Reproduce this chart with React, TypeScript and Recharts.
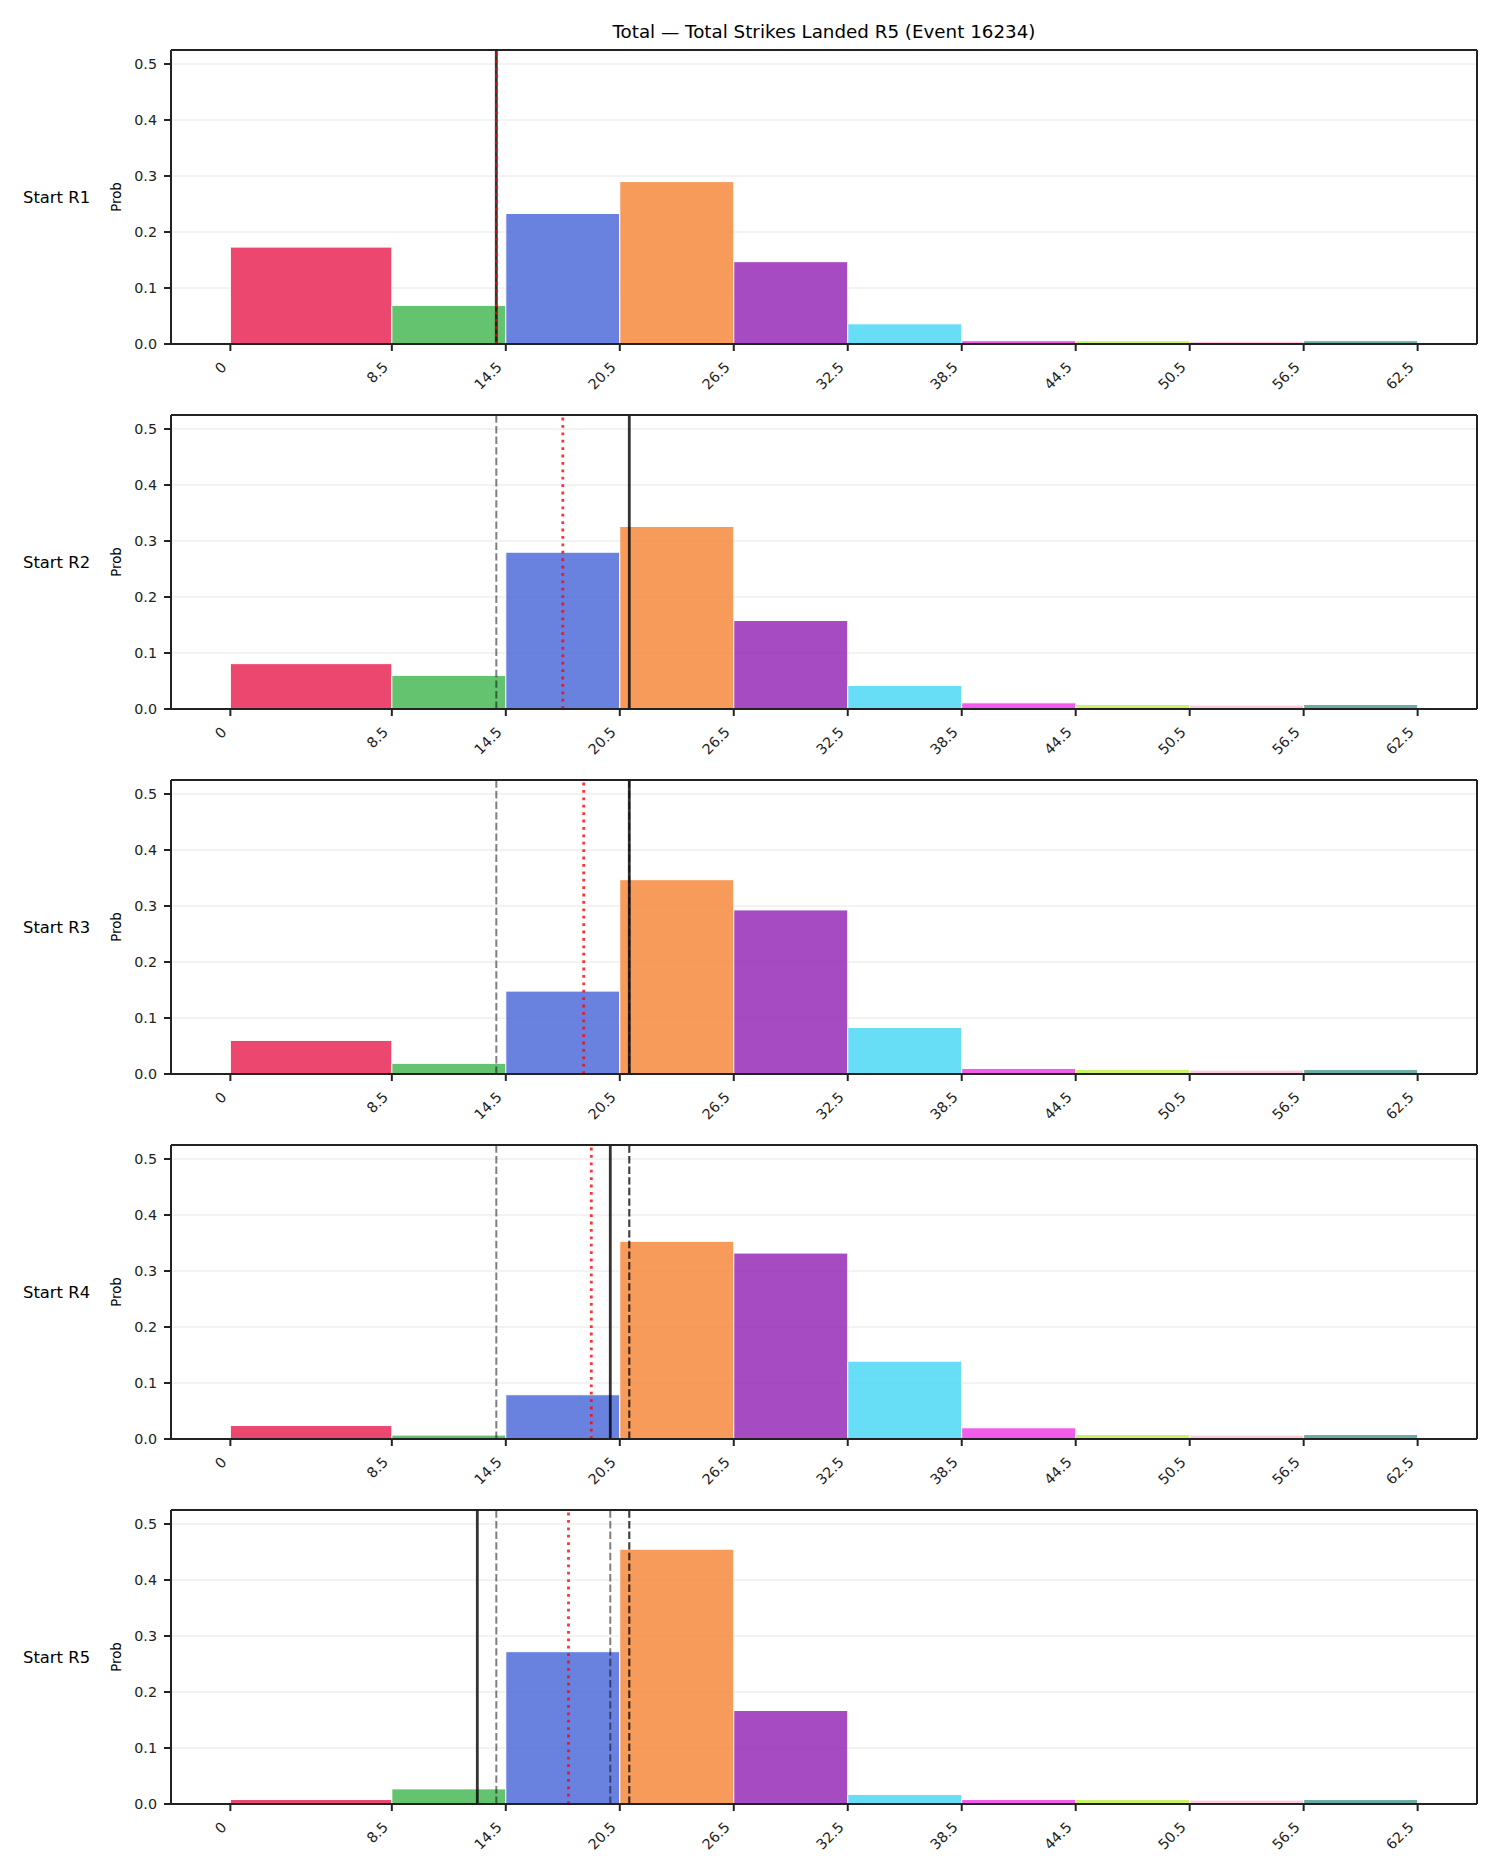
import React from 'react';
import {
  ComposedChart,
  XAxis,
  YAxis,
  CartesianGrid,
  ReferenceArea,
  ReferenceLine,
  Line,
} from 'recharts';

// ---- data ----
const binEdges = [0, 8.5, 14.5, 20.5, 26.5, 32.5, 38.5, 44.5, 50.5, 56.5, 62.5];
const xTickLabels = ['0', '8.5', '14.5', '20.5', '26.5', '32.5', '38.5', '44.5', '50.5', '56.5', '62.5'];
const binColors = ['#e6194b', '#3cb44b', '#4363d8', '#f58231', '#911eb4', '#42d4f4', '#f032e6', '#bfef45', '#fabed4', '#469990'];
const roundNames = ['Start R1', 'Start R2', 'Start R3', 'Start R4', 'Start R5'];

const probR1 = [0.173, 0.069, 0.233, 0.290, 0.147, 0.036, 0.006, 0.006, 0.005, 0.006];
const probR2 = [0.081, 0.060, 0.280, 0.326, 0.158, 0.042, 0.011, 0.008, 0.007, 0.008];
const probR3 = [0.060, 0.019, 0.148, 0.347, 0.293, 0.083, 0.010, 0.008, 0.007, 0.008];
const probR4 = [0.024, 0.007, 0.079, 0.353, 0.332, 0.139, 0.020, 0.008, 0.007, 0.008];
const probR5 = [0.008, 0.027, 0.272, 0.455, 0.167, 0.017, 0.008, 0.008, 0.007, 0.008];
const probsByRound = [probR1, probR2, probR3, probR4, probR5];

const roundLines = [14, 21, 21, 20, 13];
const redLines = [14, 17.5, 18.6, 19.0, 17.8];
const yTicks = [0, 0.1, 0.2, 0.3, 0.4, 0.5];

const titleText = 'Total \u2014 Total Strikes Landed R5 (Event 16234)';

// ---- layout ----
const FONT = '"DejaVu Sans", sans-serif';
const PANEL_TOP = 50;
const PANEL_STEP = 365;
const PLOT_H = 294;
const MARGIN_TOP = 10;
const X_AXIS_H = 60;
const Y_AXIS_W = 171;
const RIGHT_M = 23;
const X_DOMAIN: [number, number] = [-3.125, 65.625];
const Y_MAX = 0.525;
const INK = '#222';

function XTick(props: any) {
  const { x, y, payload } = props;
  const i = binEdges.indexOf(payload.value);
  const label = i >= 0 ? xTickLabels[i] : String(payload.value);
  const ax = x - 3;
  const ay = y + 17;
  return (
    <text
      x={ax}
      y={ay}
      transform={`rotate(-45 ${ax} ${ay})`}
      textAnchor="end"
      fontSize={14.3}
      fill={INK}
      fontFamily={FONT}
    >
      {label}
    </text>
  );
}

function Panel({ idx }: { idx: number }) {
  const probs = probsByRound[idx];
  const data = probs.map((p, i) => ({ x: (binEdges[i] + binEdges[i + 1]) / 2, p }));
  return (
    <div style={{ position: 'absolute', left: 0, top: PANEL_TOP + idx * PANEL_STEP - MARGIN_TOP }}>
      <ComposedChart
        width={1500}
        height={MARGIN_TOP + PLOT_H + X_AXIS_H}
        data={data}
        margin={{ top: MARGIN_TOP, right: RIGHT_M, bottom: 0, left: 0 }}
      >
        <CartesianGrid horizontal vertical={false} stroke="#e6e6e6" strokeWidth={1} />
        <XAxis
          type="number"
          dataKey="x"
          domain={X_DOMAIN}
          ticks={binEdges}
          interval={0}
          allowDataOverflow
          height={X_AXIS_H}
          tickSize={7}
          tickMargin={0}
          tick={<XTick />}
          axisLine={{ stroke: INK, strokeWidth: 2 }}
          tickLine={{ stroke: INK, strokeWidth: 2 }}
        />
        <YAxis
          type="number"
          domain={[0, Y_MAX]}
          ticks={yTicks}
          allowDataOverflow
          width={Y_AXIS_W}
          tickSize={7}
          tickMargin={7}
          tickFormatter={(v: number) => v.toFixed(1)}
          tick={{ fontSize: 14.3, fill: INK, fontFamily: FONT }}
          axisLine={{ stroke: INK, strokeWidth: 2 }}
          tickLine={{ stroke: INK, strokeWidth: 2 }}
        />
        <Line dataKey="p" stroke="none" dot={false} activeDot={false} isAnimationActive={false} />
        {probs.map((p, i) => (
          <ReferenceArea
            key={'b' + i}
            x1={binEdges[i]}
            x2={binEdges[i + 1]}
            y1={0}
            y2={p}
            fill={binColors[i]}
            fillOpacity={0.8}
            stroke="#ffffff"
            strokeWidth={1}
            strokeOpacity={1}
            ifOverflow="visible"
          />
        ))}
        {roundLines.slice(0, idx).map((v, j) => (
          <ReferenceLine
            key={'d' + j}
            x={v}
            stroke="#000"
            strokeOpacity={0.5}
            strokeWidth={2}
            strokeDasharray="7.4 3.2"
          />
        ))}
        <ReferenceLine x={roundLines[idx]} stroke="#000" strokeOpacity={0.8} strokeWidth={2.8} />
        <ReferenceLine
          x={redLines[idx]}
          stroke="#ff0000"
          strokeOpacity={0.8}
          strokeWidth={2.8}
          strokeDasharray="2.8 4.6"
        />
        <ReferenceLine y={Y_MAX} stroke={INK} strokeWidth={2} />
        <ReferenceLine x={X_DOMAIN[1]} stroke={INK} strokeWidth={2} />
        <ReferenceLine y={0} stroke={INK} strokeWidth={2} />
      </ComposedChart>
    </div>
  );
}

export default function App() {
  return (
    <div style={{ position: 'absolute', left: 0, top: 0, width: 1500, height: 1875, background: '#fff' }}>
      <svg width={1500} height={1875} style={{ position: 'absolute', left: 0, top: 0 }}>
        <text x={824} y={37.5} textAnchor="middle" fontSize={18.3} fill="#000" fontFamily={FONT}>
          {titleText}
        </text>
        {roundNames.map((name, i) => {
          const cy = PANEL_TOP + i * PANEL_STEP + PLOT_H / 2;
          return (
            <g key={name}>
              <text x={23} y={cy + 5.5} fontSize={16.4} fill="#000" fontFamily={FONT}>
                {name}
              </text>
              <text
                x={121}
                y={cy}
                transform={`rotate(-90 121 ${cy})`}
                textAnchor="middle"
                fontSize={13.3}
                fill="#000"
                fontFamily={FONT}
              >
                Prob
              </text>
            </g>
          );
        })}
      </svg>
      {roundNames.map((_, i) => (
        <Panel key={i} idx={i} />
      ))}
    </div>
  );
}
